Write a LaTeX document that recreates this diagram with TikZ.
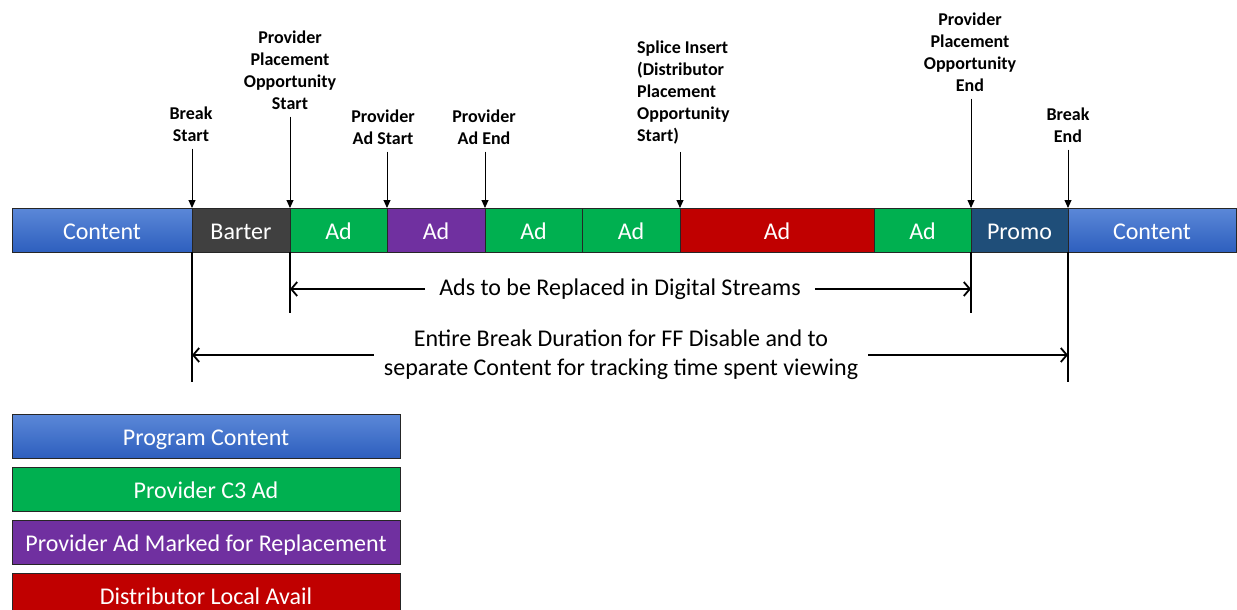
\documentclass[tikz,border=0pt]{standalone}
\usepackage{fontspec}
\setmainfont{Carlito}
\usetikzlibrary{positioning,arrows.meta}

\definecolor{contenttop}{HTML}{5B88D8}
\definecolor{contentbot}{HTML}{2E5FBE}
\definecolor{bartergray}{HTML}{404040}
\definecolor{adgreen}{HTML}{00B050}
\definecolor{adpurple}{HTML}{7030A0}
\definecolor{adred}{HTML}{C00000}
\definecolor{promoblue}{HTML}{1F4E79}

\begin{document}
\begin{tikzpicture}[x=1pt, y=-1pt,
  seg/.style={draw=black!85, line width=0.8pt, minimum height=44pt, inner sep=0pt,
    outer sep=0pt, text=white, text height=18pt, text depth=0pt,
    font=\fontsize{24}{29}\selectfont},
  content/.style={seg, top color=contenttop, bottom color=contentbot},
  cue/.style={font=\bfseries\fontsize{18}{22}\selectfont, align=center,
    inner xsep=0pt, inner ysep=7pt},
  tick/.style={-{Triangle[length=8pt,width=7pt]}, line width=0.9pt},
  span/.style={-{Straight Barb[length=6pt,width=14pt]}, line width=1.8pt},
  dimtext/.style={font=\fontsize{24}{29}\selectfont, align=center, inner xsep=14pt},
  legend/.style={seg, minimum width=388pt, line width=1pt}]

\useasboundingbox (0,0) rectangle (1237,610);

% Break timeline %
\node[content, minimum width=180pt, anchor=west] (content1) at (12,230) {Content};
\node[seg, fill=bartergray, minimum width=98pt, right=0pt of content1] (barter) {Barter};
\node[seg, fill=adgreen, minimum width=97pt, right=0pt of barter] (ad1) {Ad};
\node[seg, fill=adpurple, minimum width=98pt, right=0pt of ad1] (ad2) {Ad};
\node[seg, fill=adgreen, minimum width=97pt, right=0pt of ad2] (ad3) {Ad};
\node[seg, fill=adgreen, minimum width=98pt, right=0pt of ad3] (ad4) {Ad};
\node[seg, fill=adred, minimum width=194pt, right=0pt of ad4] (ad5) {Ad};
\node[seg, fill=adgreen, minimum width=97pt, right=0pt of ad5] (ad6) {Ad};
\node[seg, fill=promoblue, minimum width=97pt, right=0pt of ad6] (promo) {Promo};
\node[content, minimum width=168pt, right=0pt of promo] (content2) {Content};

% Cue labels %
\node[cue] (bkstart) at (191,124) {Break\\Start};
\node[cue] (ppostart) at (290,70) {Provider\\Placement\\Opportunity\\Start};
\node[cue] (adstart) at (383,127) {Provider\\Ad Start};
\node[cue] (adend) at (484,127) {Provider\\Ad End};
\node[cue, align=left, anchor=west] (splice) at (637,93) {Splice Insert\\(Distributor\\Placement\\Opportunity\\Start)};
\node[cue] (ppoend) at (970,52) {Provider\\Placement\\Opportunity\\End};
\node[cue] (bkend) at (1068,125) {Break\\End};

% Cue arrows %
\draw[tick] (bkstart.south -| barter.north west) -- (barter.north west);
\draw[tick] (ppostart.south -| ad1.north west) -- (ad1.north west);
\draw[tick] (adstart.south -| ad2.north west) -- (ad2.north west);
\draw[tick] (adend.south -| ad3.north west) -- (ad3.north west);
\draw[tick] (splice.south -| ad5.north west) -- (ad5.north west);
\draw[tick] (ppoend.south -| promo.north west) -- (promo.north west);
\draw[tick] (bkend.south -| content2.north west) -- (content2.north west);

% Extents below the bar %
\draw[line width=1.8pt] (barter.south west) -- ++(0,130);
\draw[line width=1.8pt] (ad1.south west) -- ++(0,61);
\draw[line width=1.8pt] (promo.south west) -- ++(0,61);
\draw[line width=1.8pt] (content2.south west) -- ++(0,130);

\node[dimtext] (replace) at (620,289) {Ads to be Replaced in Digital Streams};
\draw[span] (replace.west) -- (replace.west -| ad1.south west);
\draw[span] (replace.east) -- (replace.east -| promo.south west);

\node[dimtext, inner xsep=10pt] (entire) at (621,355) {Entire Break Duration for FF Disable and to\\separate Content for tracking time spent viewing};
\draw[span] (entire.west) -- (entire.west -| barter.south west);
\draw[span] (entire.east) -- (entire.east -| content2.south west);

% Legend %
\node[legend, top color=contenttop, bottom color=contentbot] (lgcontent) at (206,436) {Program Content};
\node[legend, fill=adgreen, below=9pt of lgcontent] (lgc3) {Provider C3 Ad};
\node[legend, fill=adpurple, below=9pt of lgc3] (lgmarked) {Provider Ad Marked for Replacement};
\node[legend, fill=adred, below=9pt of lgmarked] (lglocal) {Distributor Local Avail};

\end{tikzpicture}
\end{document}
